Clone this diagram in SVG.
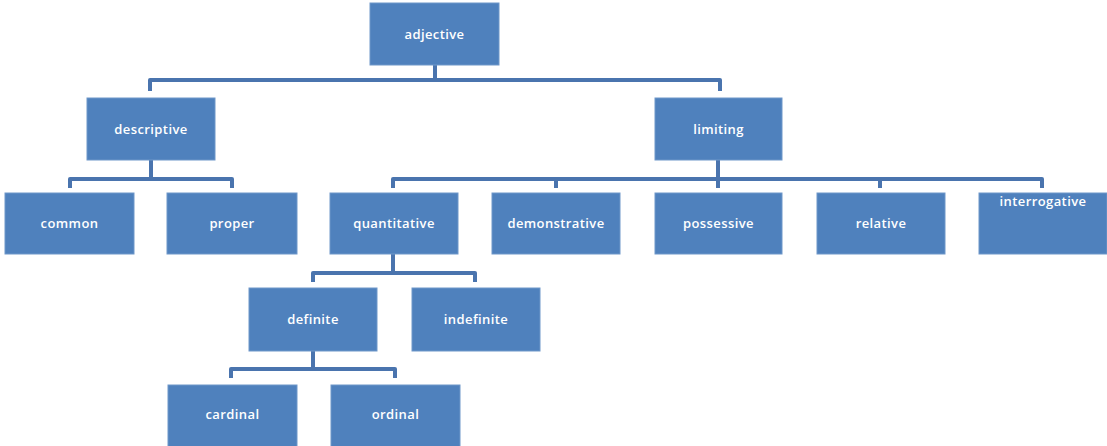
<svg xmlns="http://www.w3.org/2000/svg" width="1107" height="446" viewBox="0 0 1107 446">
  <style>
    .box { fill: #4f81bd; stroke: #6f97c9; stroke-width: 1; }
    .lbl { fill: #ffffff; font-family: "Open Sans", "Liberation Sans", sans-serif; font-size: 13px; font-weight: 600; text-anchor: middle; dominant-baseline: central; letter-spacing: 0.4px; }
    .link { fill: none; stroke: #4a74ae; stroke-width: 4; stroke-linejoin: round; }
  </style>
  <rect width="1107" height="446" fill="#ffffff"/>

  <!-- tree connectors -->
  <g id="connectors">
    <path class="link" d="M435 65 V80 M150 91 V80 H720 V91"/>
    <path class="link" d="M151 160 V179 M70 188 V179 H232 V188"/>
    <path class="link" d="M718 160 V179 M393 188 V179 H1042 V188 M556 179 V188 M718 179 V188 M880 179 V188"/>
    <path class="link" d="M393 254 V273 M313 282 V273 H475 V282"/>
    <path class="link" d="M313 351 V369 M231 378 V369 H395 V378"/>
  </g>

  <g id="adjective">
    <rect class="box" x="370" y="3" width="129" height="62"/>
    <text class="lbl" x="434.5" y="34">adjective</text>
  </g>
  <g id="descriptive">
    <rect class="box" x="87" y="98" width="128" height="62"/>
    <text class="lbl" x="151" y="129">descriptive</text>
  </g>
  <g id="limiting">
    <rect class="box" x="655" y="98" width="127" height="62"/>
    <text class="lbl" x="718.5" y="129">limiting</text>
  </g>
  <g id="common">
    <rect class="box" x="5" y="193" width="129" height="61"/>
    <text class="lbl" x="69.5" y="223">common</text>
  </g>
  <g id="proper">
    <rect class="box" x="167" y="193" width="130" height="61"/>
    <text class="lbl" x="232" y="223">proper</text>
  </g>
  <g id="quantitative">
    <rect class="box" x="330" y="193" width="128" height="61"/>
    <text class="lbl" x="394" y="223">quantitative</text>
  </g>
  <g id="demonstrative">
    <rect class="box" x="492" y="193" width="128" height="61"/>
    <text class="lbl" x="556" y="223">demonstrative</text>
  </g>
  <g id="possessive">
    <rect class="box" x="655" y="193" width="127" height="61"/>
    <text class="lbl" x="718.5" y="223">possessive</text>
  </g>
  <g id="relative">
    <rect class="box" x="817" y="193" width="128" height="61"/>
    <text class="lbl" x="881" y="223">relative</text>
  </g>
  <g id="interrogative">
    <rect class="box" x="979" y="193" width="128" height="61"/>
    <text class="lbl" x="1043" y="201">interrogative</text>
  </g>
  <g id="definite">
    <rect class="box" x="249" y="288" width="128" height="63"/>
    <text class="lbl" x="313" y="319">definite</text>
  </g>
  <g id="indefinite">
    <rect class="box" x="412" y="288" width="128" height="63"/>
    <text class="lbl" x="476" y="319">indefinite</text>
  </g>
  <g id="cardinal">
    <rect class="box" x="168" y="385" width="129" height="63"/>
    <text class="lbl" x="232.5" y="414">cardinal</text>
  </g>
  <g id="ordinal">
    <rect class="box" x="331" y="385" width="129" height="63"/>
    <text class="lbl" x="395.5" y="414">ordinal</text>
  </g>
</svg>
